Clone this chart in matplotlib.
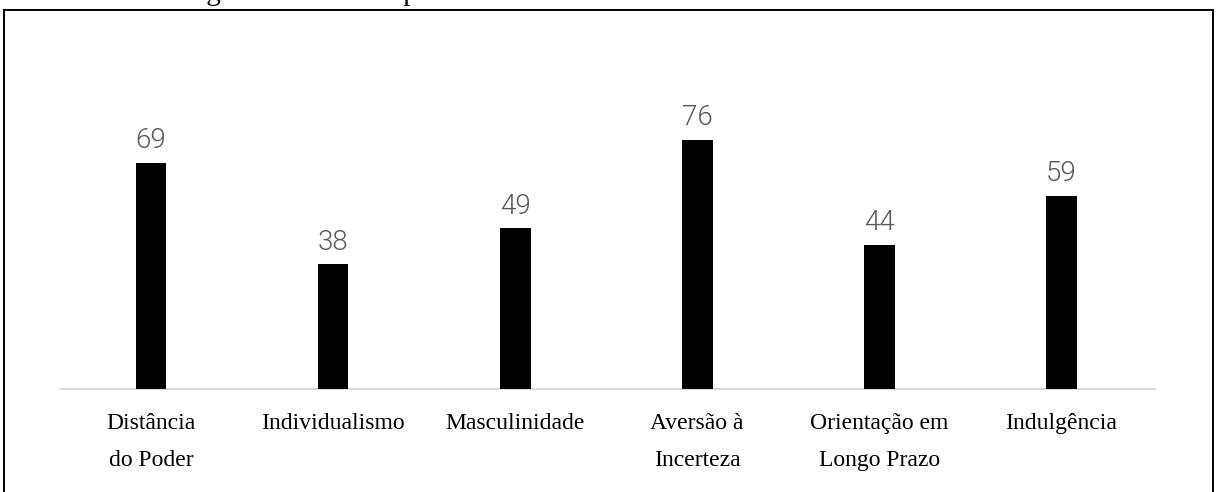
import matplotlib
matplotlib.use("Agg")
import matplotlib.pyplot as plt
from matplotlib.patches import Rectangle
import numpy as np

# Hofstede cultural dimensions
categories = ["Distância\ndo Poder", "Individualismo", "Masculinidade",
              "Aversão à\nIncerteza", "Orientação em\nLongo Prazo", "Indulgência"]
values = [69, 38, 49, 76, 44, 59]
title = "Figura 1 – Valores para as dimensões culturais de Hofstede no Brasil"

W, H = 1219, 492
fig = plt.figure(figsize=(W / 100, H / 100), dpi=100)
fig.patch.set_facecolor("white")

# axes area in pixels: left 60, right 1155, baseline at 389 px from top, top at 100 px
ax = fig.add_axes([60 / W, (H - 389) / H, (1155 - 60) / W, (389 - 100) / H])
x = np.arange(len(values))
ax.bar(x, values, width=0.17, color="black", zorder=3)
ax.set_xlim(-0.5, 5.516)
ax.set_ylim(0, 88.2)

for xi, v in zip(x, values):
    ax.annotate(str(v), (xi, v), xytext=(0, 10.5), textcoords="offset points",
                ha="center", va="baseline", fontsize=20, color="#595959",
                family="Roboto", fontweight=300)

ax.set_xticks(x)
ax.set_xticklabels(categories, family="Liberation Serif", fontsize=17,
                   linespacing=2.05, color="black")
ax.tick_params(axis="x", length=0, pad=17)
ax.set_yticks([])
for side in ("left", "right", "top"):
    ax.spines[side].set_visible(False)
ax.spines["bottom"].set_color("#d9d9d9")
ax.spines["bottom"].set_linewidth(1.4)
ax.patch.set_alpha(0)

# frame around the figure
fig.add_artist(Rectangle((4 / W, -0.05), (1213 - 4) / W, (H - 10) / H + 0.05,
                         transform=fig.transFigure, fill=False,
                         edgecolor="black", linewidth=1.4, clip_on=False))

# caption sitting above the frame
fig.text(182 / W, 1 + 0.5 / H, title, ha="left", va="baseline",
         family="Liberation Serif", fontsize=21, color="black")

fig.savefig("out.png", dpi=100, facecolor="white")
